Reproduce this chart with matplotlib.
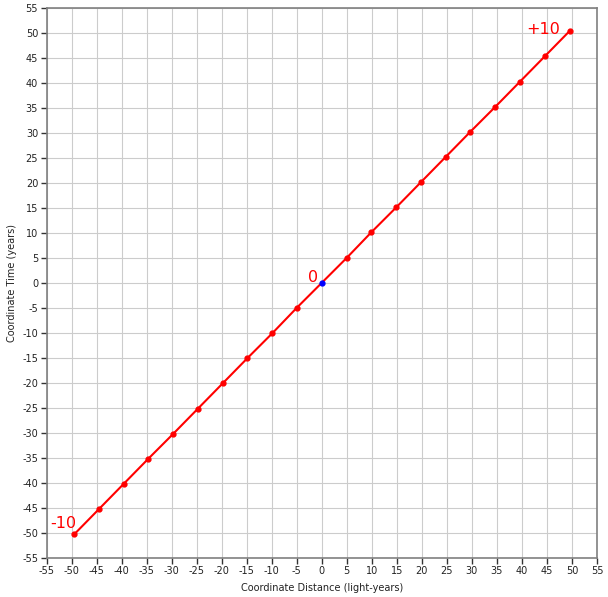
import matplotlib
matplotlib.use("Agg")
import matplotlib.pyplot as plt
import numpy as np

x_vals = [-49.5, -44.6, -39.6, -34.7, -29.7, -24.8, -19.8, -14.9, -9.9, -5.0, 0.0,
          5.0, 9.9, 14.9, 19.8, 24.8, 29.7, 34.7, 39.6, 44.6, 49.5]
t_vals = [-50.3, -45.3, -40.2, -35.2, -30.2, -25.2, -20.1, -15.1, -10.1, -5.0, 0.0,
          5.0, 10.1, 15.1, 20.1, 25.2, 30.2, 35.2, 40.2, 45.3, 50.3]
ticks = list(range(-55, 60, 5))
labels = ["-10", "0", "+10"]
label_pos = [(-51.7, -48.1), (-1.7, 1.0), (44.2, 50.6)]

plt.rcParams['font.family'] = ['DejaVu Sans']
plt.rcParams['axes.unicode_minus'] = False
fig = plt.figure(figsize=(6.08, 5.97), dpi=100)
ax = fig.add_axes([0.0765, 0.0653, 0.9055, 0.922])

ax.plot(x_vals, t_vals, color='#ff0000', lw=1.5, zorder=3)
mx = [x for i, x in enumerate(x_vals) if x != 0]
my = [t for i, t in enumerate(t_vals) if x_vals[i] != 0]
ax.plot(mx, my, 'o', color='#ff0000', ms=3.5, zorder=4)
zi = x_vals.index(0.0)
ax.plot([x_vals[zi]], [t_vals[zi]], 'o', color='#0000ff', ms=3.5, zorder=5)

for lab, (lx, ly) in zip(labels, label_pos):
    ax.text(lx, ly, lab, color='#ff0000', fontsize=11.5, ha='center', va='center', zorder=6)

ax.set_xlim(-55, 55)
ax.set_ylim(-55, 55)
ax.set_xticks(ticks)
ax.set_yticks(ticks)
ax.set_xticklabels([str(t) for t in ticks])
ax.set_yticklabels([str(t) for t in ticks])
ax.tick_params(labelsize=7, length=4, width=1, color='#333333', labelcolor='#222222', pad=2)
ax.grid(True, color='#cccccc', lw=0.8)
ax.set_axisbelow(True)
for s in ax.spines.values():
    s.set_color('#808080')
    s.set_linewidth(1.2)
ax.set_xlabel('Coordinate Distance (light-years)', fontsize=7, color='#222222', labelpad=5)
ax.set_ylabel('Coordinate Time (years)', fontsize=7, color='#222222')
ax.yaxis.set_label_coords(-0.0527, 0.5)

fig.savefig('out.png', dpi=100)
